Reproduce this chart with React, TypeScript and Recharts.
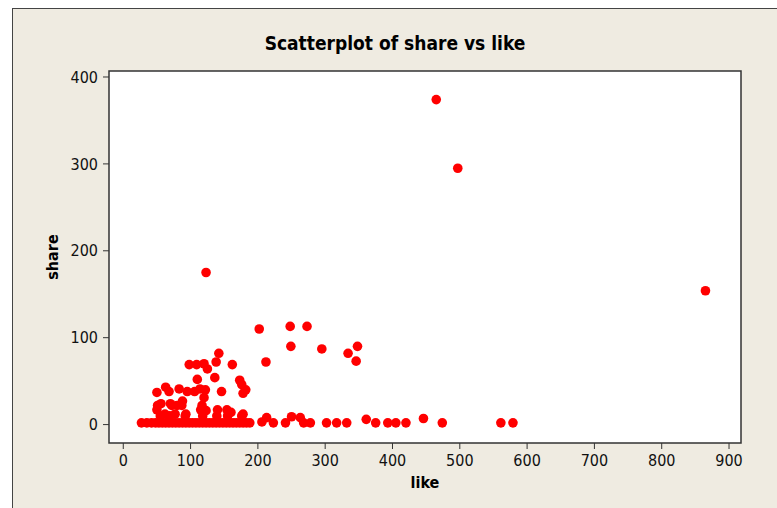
import { ScatterChart, Scatter, XAxis, YAxis, ReferenceArea } from "recharts";

// like / share pairs
const likes = [
  465, 497, 865, 123,
  202, 248, 273, 249, 295, 334, 348, 346, 212,
  142, 98, 109, 120, 125, 138, 162,
  110, 136, 173, 176, 182, 178,
  50, 63, 68, 83, 95, 106, 114, 122, 120, 146,
  56, 70, 80, 88,
  50, 115, 123, 140, 154, 160,
  62, 77, 93, 178,
  213, 206, 223,
  55, 69, 92, 118, 139, 155, 176, 51, 72, 87, 117,
  27, 35, 42, 48, 53, 58, 63, 68, 73, 78, 83, 88, 93, 98, 103, 108,
  113, 118, 123, 128, 133, 138, 143, 148, 153, 158, 163, 168, 173, 178, 183, 188,
  241, 250, 263, 268, 278, 302, 317, 332, 361, 375, 393, 405, 420, 446, 474, 561, 579,
];

const shares = [
  374, 295, 154, 175,
  110, 113, 113, 90, 87, 82, 90, 73, 72,
  82, 69, 69, 70, 64, 72, 69,
  52, 54, 51, 46, 40, 36,
  37, 43, 38, 41, 38, 38, 41, 40, 31, 38,
  24, 24, 22, 27,
  17, 17, 16, 17, 17, 14,
  12, 12, 12, 12,
  8, 3, 2,
  10, 10, 10, 10, 10, 10, 10, 22, 22, 22, 22,
  2, 2, 2, 2, 2, 2, 2, 2, 2, 2, 2, 2, 2, 2, 2, 2,
  2, 2, 2, 2, 2, 2, 2, 2, 2, 2, 2, 2, 2, 2, 2, 2,
  2, 9, 8, 2, 2, 2, 2, 2, 6, 2, 2, 2, 2, 7, 2, 2, 2,
];

const xTicks = [0, 100, 200, 300, 400, 500, 600, 700, 800, 900];
const yTicks = [0, 100, 200, 300, 400];

const points = likes.map((like, i) => ({ like, share: shares[i] }));

const X_DOMAIN = [-21.2, 917.8];
const Y_DOMAIN = [-21.2, 406.9];

const font = "'DejaVu Sans Condensed', 'DejaVu Sans', sans-serif";

const Dot = (props: any) => <circle cx={props.cx} cy={props.cy} r={4.8} fill="#ff0000" />;

export default function App() {
  return (
    <div style={{ position: "absolute", left: 0, top: 0, width: 777, height: 508, background: "#fff", overflow: "hidden", fontFamily: font }}>
      {/* beige graph frame */}
      <div
        style={{
          position: "absolute",
          left: 12,
          top: 8,
          width: 800,
          height: 520,
          background: "#efebe1",
          borderLeft: "1.5px solid #444",
          borderTop: "1.5px solid #444",
        }}
      />
      <div style={{ position: "absolute", left: 12, width: 766, top: 32, textAlign: "center", fontWeight: "bold", fontSize: 19, color: "#000" }}>
        Scatterplot of share vs like
      </div>
      <div style={{ position: "absolute", left: 109, width: 632, top: 473, textAlign: "center", fontWeight: "bold", fontSize: 16, color: "#000" }}>
        like
      </div>
      <div
        style={{
          position: "absolute",
          left: 52,
          top: 257,
          transform: "translate(-50%, -50%) rotate(-90deg)",
          fontWeight: "bold",
          fontSize: 16,
          color: "#000",
        }}
      >
        share
      </div>
      <div style={{ position: "absolute", left: 0, top: 0 }}>
        <ScatterChart width={777} height={508} margin={{ top: 71, right: 36, bottom: 35, left: 49 }}>
          <XAxis
            type="number"
            dataKey="like"
            domain={X_DOMAIN}
            ticks={xTicks}
            allowDataOverflow
            axisLine={false}
            tickLine={{ stroke: "#333" }}
            tickSize={6}
            tickMargin={6}
            height={30}
            tick={{ fill: "#111", fontSize: 16, fontFamily: font }}
          />
          <YAxis
            type="number"
            dataKey="share"
            domain={Y_DOMAIN}
            ticks={yTicks}
            allowDataOverflow
            axisLine={false}
            tickLine={{ stroke: "#333" }}
            tickSize={6}
            tickMargin={5}
            width={60}
            tick={{ fill: "#111", fontSize: 16, fontFamily: font }}
          />
          <ReferenceArea
            x1={X_DOMAIN[0]}
            x2={X_DOMAIN[1]}
            y1={Y_DOMAIN[0]}
            y2={Y_DOMAIN[1]}
            fill="#fff"
            fillOpacity={1}
            stroke="#333"
            strokeWidth={1.5}
          />
          <Scatter data={points} shape={Dot} isAnimationActive={false} />
        </ScatterChart>
      </div>
    </div>
  );
}
